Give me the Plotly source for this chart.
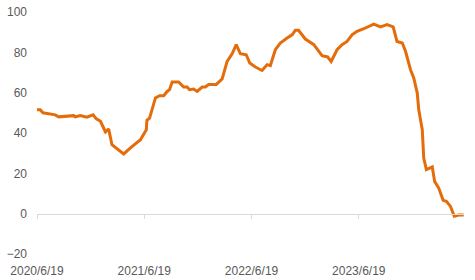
import plotly.graph_objects as go

dates = [
    "2020-06-19", "2020-06-30", "2020-07-09", "2020-08-03", "2020-08-20", "2020-09-01",
    "2020-10-22", "2020-10-27", "2020-11-13", "2020-12-06", "2020-12-27", "2021-01-07",
    "2021-01-21", "2021-02-07", "2021-02-18", "2021-03-01", "2021-03-16", "2021-04-10",
    "2021-05-03", "2021-05-20", "2021-06-06", "2021-06-26", "2021-06-28", "2021-07-07",
    "2021-07-27", "2021-08-10", "2021-08-24", "2021-09-05", "2021-09-13", "2021-09-22",
    "2021-10-14", "2021-10-31", "2021-11-12", "2021-11-20", "2021-12-04", "2021-12-16",
    "2022-01-02", "2022-01-13", "2022-01-24", "2022-02-19", "2022-03-11", "2022-03-28",
    "2022-04-14", "2022-04-28", "2022-05-12", "2022-06-01", "2022-06-13", "2022-07-02",
    "2022-07-19", "2022-07-25", "2022-08-11", "2022-08-22", "2022-09-08", "2022-09-25",
    "2022-10-18", "2022-11-04", "2022-11-15", "2022-11-26", "2022-12-19", "2022-12-31",
    "2023-01-17", "2023-02-14", "2023-03-05", "2023-03-17", "2023-04-06", "2023-04-23",
    "2023-05-10", "2023-05-27", "2023-06-13", "2023-07-06", "2023-07-23", "2023-08-09",
    "2023-09-01", "2023-09-23", "2023-10-14", "2023-10-27", "2023-11-14", "2023-11-25",
    "2023-12-12", "2023-12-23", "2024-01-04", "2024-01-09", "2024-01-15", "2024-01-21",
    "2024-01-26", "2024-02-04", "2024-02-24", "2024-03-03", "2024-03-17", "2024-04-01",
    "2024-04-12", "2024-04-26", "2024-05-09", "2024-05-24", "2024-06-10",
]
values = [
    51.5, 51.5, 50.0, 49.6, 49.0, 48.0,
    48.6, 48.0, 48.7, 47.8, 49.0, 47.0,
    45.8, 40.5, 42.0, 34.2, 32.6, 29.6,
    32.6, 34.6, 36.7, 41.6, 46.3, 47.4,
    57.4, 58.5, 58.5, 60.6, 61.5, 65.3,
    65.3, 62.8, 62.8, 61.5, 61.8, 60.6,
    62.8, 62.8, 64.0, 64.0, 66.8, 75.5,
    79.3, 83.8, 79.3, 78.8, 74.7, 72.7,
    71.7, 71.0, 73.9, 73.4, 81.3, 84.6,
    87.1, 88.7, 90.9, 90.9, 86.6, 85.4,
    83.8, 78.3, 77.7, 75.5, 81.3, 83.8,
    85.4, 88.7, 90.4, 91.7, 92.9, 94.0,
    92.6, 93.7, 92.6, 85.4, 84.6, 80.5,
    71.4, 67.3, 59.8, 51.6, 46.6, 41.6,
    27.6, 21.8, 23.2, 16.0, 12.7, 6.6,
    6.1, 3.6, -1.3, -0.7, -0.7,
]
tick_dates = ["2020-06-19", "2021-06-19", "2022-06-19", "2023-06-19"]
tick_labels = ["2020/6/19", "2021/6/19", "2022/6/19", "2023/6/19"]
y_ticks = [-20, 0, 20, 40, 60, 80, 100]

x_range = ["2020-06-19", "2024-06-11"]
font = dict(family="Liberation Sans, Arial, sans-serif", size=12, color="#595959")

fig = go.Figure()
fig.add_trace(go.Scatter(
    x=dates, y=values, mode="lines",
    line=dict(color="#E46C0A", width=3),
    hoverinfo="skip", showlegend=False, cliponaxis=False,
))
# invisible trace to carry the zero-line axis
fig.add_trace(go.Scatter(
    x=[dates[0]], y=[0], xaxis="x2", mode="lines",
    line=dict(width=0), hoverinfo="skip", showlegend=False,
))

fig.update_layout(
    width=475, height=280,
    margin=dict(l=37, r=11, t=12, b=26),
    paper_bgcolor="white", plot_bgcolor="white",
    font=font,
    xaxis=dict(
        type="date", range=x_range,
        tickvals=tick_dates, ticktext=tick_labels,
        showgrid=False, showline=False, zeroline=False, ticks="",
        tickfont=font, ticklabelstandoff=8, automargin=False,
    ),
    xaxis2=dict(
        type="date", overlaying="x", matches="x", anchor="free", position=1/6,
        tickvals=tick_dates, showticklabels=False,
        showgrid=False, showline=True, linecolor="#D9D9D9", linewidth=1,
        ticks="outside", ticklen=4, tickcolor="#D9D9D9", tickwidth=1,
        zeroline=False, automargin=False,
    ),
    yaxis=dict(
        range=[-20, 100], tickvals=y_ticks,
        showgrid=False, showline=False, zeroline=False, ticks="",
        tickfont=font, ticklabelstandoff=9, automargin=False,
    ),
)

fig.write_html("out.html")
